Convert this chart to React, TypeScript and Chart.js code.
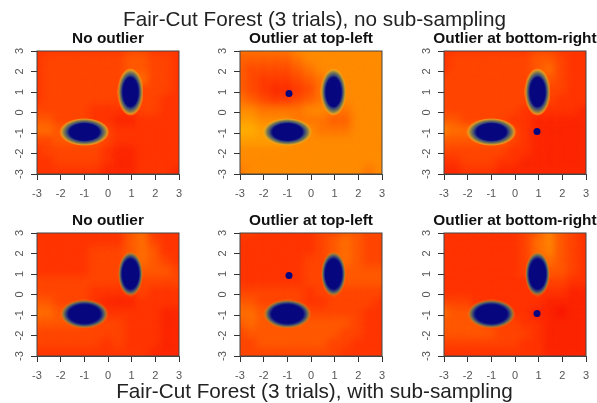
import React, { useEffect, useRef } from "react";
import { Chart, registerables } from "chart.js";
Chart.register(...registerables);

const mainTop = "Fair-Cut Forest (3 trials), no sub-sampling";
const mainBottom = "Fair-Cut Forest (3 trials), with sub-sampling";
const tickValues = [-3, -2, -1, 0, 1, 2, 3];
const gridX = [-3, -2.5, -2, -1.5, -1, -0.5, 0, 0.5, 1, 1.5, 2, 2.5, 3];
const gridY = [3, 2.5, 2, 1.5, 1, 0.5, 0, -0.5, -1, -1.5, -2, -2.5, -3];
const palette = ["#f81400", "#fc2400", "#ff3400", "#ff4600", "#ff5c00", "#ff7400", "#ff8c00", "#ffa000", "#ffb400", "#ffd000"];

const heatTopNone = ["2222222233222", "2333333344332", "2333333344332", "2333333345332", "2333333343332", "2333333343322", "3333322223322", "4433322112222", "5544333222222", "3344443222222", "2333332112222", "2233332112222", "2222221112221"];
const heatTopLeft = ["5555566666666", "4444456666666", "4333345666666", "4322234566666", "4321123566666", "5432234566666", "6655556655666", "7766655544666", "8877666555666", "7777766666666", "6666666666666", "6666666666666", "5666666666656"];
const heatTopRight = ["2222222233222", "2333333344322", "2333333345322", "3333333344322", "3333333343322", "3333333333222", "3333333222221", "4433332211111", "6555443211111", "4444443211111", "3333332211111", "2233322111111", "1122211111111"];
const heatBotNone = ["2222222245222", "2222222245322", "2222233345422", "2222233345432", "2222233344443", "3333333333333", "3333322223222", "4433321112222", "5544332222211", "4444433322211", "3333333322211", "3333332322211", "2222222222111"];
const heatBotLeft = ["3322222334433", "2222222345433", "2222222345433", "2222223345433", "2222223344444", "2222223344444", "3333332333333", "4433332233332", "5544443333322", "4544444444322", "3444444443322", "3344444433222", "3333333332222"];
const heatBotRight = ["2222222346432", "2222222356432", "2222222356432", "2222222345432", "2222222344432", "2222222233322", "2222222222211", "3332222221111", "5443322211011", "4444333221111", "4444433321111", "3333333221111", "2222222221111"];

const clusterWide = { x: -1, y: -0.95 };
const clusterTall = { x: 0.95, y: 1 };
const outlierLeft = { x: -0.93, y: 0.93 };
const outlierRight = { x: 0.93, y: -0.93 };

const panels = [
  { title: "No outlier", heat: heatTopNone, outlier: null, left: 0, top: 26, base: 3, soft: false },
  { title: "Outlier at top-left", heat: heatTopLeft, outlier: outlierLeft, left: 203, top: 26, base: 6, soft: false },
  { title: "Outlier at bottom-right", heat: heatTopRight, outlier: outlierRight, left: 407, top: 26, base: 3, soft: false },
  { title: "No outlier", heat: heatBotNone, outlier: null, left: 0, top: 208, base: 3, soft: true },
  { title: "Outlier at top-left", heat: heatBotLeft, outlier: outlierLeft, left: 203, top: 208, base: 3, soft: true },
  { title: "Outlier at bottom-right", heat: heatBotRight, outlier: outlierRight, left: 407, top: 208, base: 2, soft: true },
];

function sprite(w: number, h: number, soft: boolean) {
  const c = document.createElement("canvas");
  c.width = w;
  c.height = h;
  const g = c.getContext("2d")!;
  g.translate(w / 2, h / 2);
  g.scale(w / 2, h / 2);
  const r = g.createRadialGradient(0, 0, 0, 0, 0, 1);
  if (soft) {
    r.addColorStop(0, "#06067f");
    r.addColorStop(0.66, "#06067f");
    r.addColorStop(0.78, "#3a4a78");
    r.addColorStop(0.88, "rgba(130,125,70,0.9)");
    r.addColorStop(1, "rgba(250,150,20,0)");
  } else {
    r.addColorStop(0, "#06067f");
    r.addColorStop(0.6, "#06067f");
    r.addColorStop(0.7, "#3a4a78");
    r.addColorStop(0.82, "rgba(125,125,80,0.95)");
    r.addColorStop(0.92, "rgba(225,170,40,0.8)");
    r.addColorStop(1, "rgba(255,170,20,0)");
  }
  g.fillStyle = r;
  g.beginPath();
  g.arc(0, 0, 1, 0, Math.PI * 2);
  g.fill();
  return c;
}

const heatLayer = {
  id: "heatLayer",
  beforeDatasetsDraw(chart: any, _a: any, opts: any) {
    const { ctx, chartArea: a } = chart;
    ctx.save();
    ctx.fillStyle = opts.base;
    ctx.fillRect(a.left, a.top, a.width, a.height);
    ctx.restore();
  },
  beforeDatasetDraw(chart: any, args: any) {
    if (args.index === 0) {
      chart.ctx.save();
      chart.ctx.filter = "blur(4px)";
    }
  },
  afterDatasetDraw(chart: any, args: any) {
    if (args.index === 0) chart.ctx.restore();
  },
  afterDraw(chart: any) {
    const { ctx, chartArea: a } = chart;
    ctx.save();
    ctx.strokeStyle = "#444";
    ctx.lineWidth = 1;
    ctx.strokeRect(a.left, a.top, a.width, a.height);
    ctx.restore();
  },
};

function Panel({ p }: { p: (typeof panels)[number] }) {
  const ref = useRef<HTMLCanvasElement>(null);
  useEffect(() => {
    const heatPoints: any[] = [];
    const heatColors: string[] = [];
    gridY.forEach((y, r) =>
      gridX.forEach((x, c) => {
        heatPoints.push({ x, y });
        heatColors.push(palette[Number(p.heat[r][c])]);
      })
    );
    const scale = (axis: "x" | "y") => ({
      type: "linear" as const,
      min: -3,
      max: 3,
      afterBuildTicks(s: any) {
        s.ticks = tickValues.map((value) => ({ value }));
      },
      afterFit(s: any) {
        if (axis === "x") {
          s.height = 30;
          s.paddingLeft = 0;
          s.paddingRight = 37;
        } else {
          s.width = 37;
          s.paddingTop = 0;
          s.paddingBottom = 0;
        }
      },
      grid: { display: true, drawOnChartArea: false, drawTicks: true, tickLength: 6, tickColor: "#333", lineWidth: 1 },
      border: { display: true, color: "#444" },
      ticks:
        axis === "x"
          ? { padding: 7, maxRotation: 0, minRotation: 0, autoSkip: false, color: "#555", font: { family: "Liberation Sans", size: 11 } }
          : { padding: 6, minRotation: 90, maxRotation: 90, crossAlign: "center", autoSkip: false, color: "#555", font: { family: "Liberation Sans", size: 11 } },
    });
    const chart = new Chart(ref.current!, {
      type: "scatter",
      data: {
        datasets: [
          { label: "density", data: heatPoints, order: 3, pointStyle: "rect", pointRadius: 10, pointBorderWidth: 0, pointBackgroundColor: heatColors },
          {
            label: "wide cluster",
            data: [clusterWide],
            order: 2,
            pointStyle: p.soft ? sprite(48, 29, true) : sprite(50, 28, false),
            pointRadius: 5,
          },
          {
            label: "tall cluster",
            data: [clusterTall],
            order: 2,
            pointStyle: p.soft ? sprite(25, 45, true) : sprite(26, 48, false),
            pointRadius: 5,
          },
          {
            label: "outlier",
            data: p.outlier ? [p.outlier] : [],
            order: 1,
            pointStyle: "circle",
            pointRadius: 3.5,
            pointBorderWidth: 0,
            pointBackgroundColor: "#06067f",
          },
        ],
      } as any,
      options: {
        responsive: false,
        animation: false,
        events: [],
        layout: { padding: { top: 5, left: 0, right: 0, bottom: 0 } },
        plugins: {
          legend: { display: false },
          tooltip: { enabled: false },
          title: {
            display: true,
            text: p.title,
            color: "#111",
            font: { family: "Liberation Sans", size: 15.4, weight: "bold", lineHeight: 1 },
            padding: { top: 0, bottom: 4.6 },
          },
          heatLayer: { base: palette[p.base] },
        } as any,
        scales: { x: scale("x"), y: scale("y") } as any,
      },
      plugins: [heatLayer],
    } as any);
    return () => chart.destroy();
  }, []);
  return <canvas ref={ref} width={216} height={178} style={{ position: "absolute", left: p.left, top: p.top, width: 216, height: 178 }} />;
}

const mainStyle: React.CSSProperties = {
  position: "absolute",
  width: 597,
  textAlign: "center",
  fontFamily: "Liberation Sans",
  fontSize: 20.7,
  lineHeight: "24px",
  color: "#222",
  whiteSpace: "nowrap",
};

export default function App() {
  return (
    <div style={{ position: "absolute", left: 0, top: 0, width: 597, height: 403, overflow: "hidden", background: "#fff", filter: "blur(0.35px)" }}>
      {panels.map((p, i) => (
        <Panel key={i} p={p} />
      ))}
      <div style={{ ...mainStyle, top: 7, left: 16 }}>{mainTop}</div>
      <div style={{ ...mainStyle, top: 379, left: 16 }}>{mainBottom}</div>
    </div>
  );
}
